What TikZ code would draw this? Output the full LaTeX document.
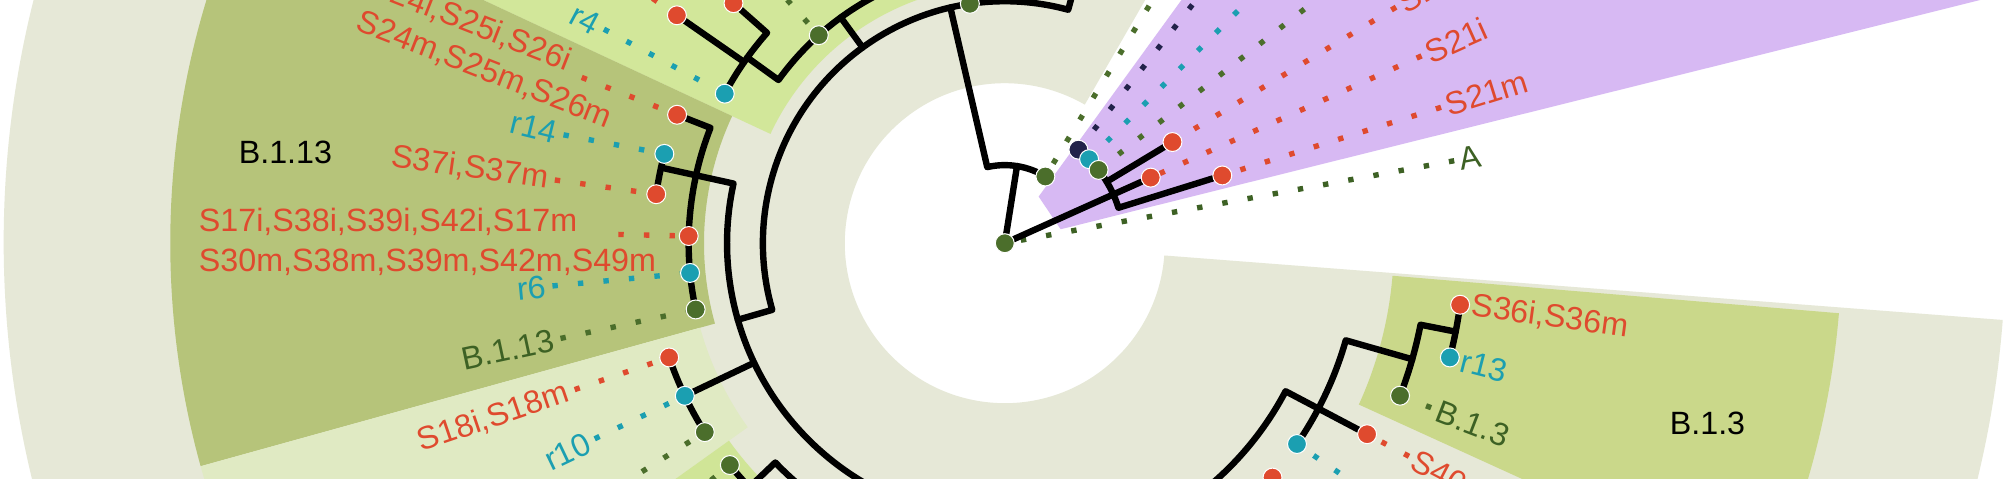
\documentclass[tikz,border=0pt]{standalone}
\usepackage{fontspec}
\setmainfont{Liberation Sans}
\pgfdeclarelayer{back}
\pgfsetlayers{back,main}
\definecolor{cGrey}{HTML}{E6E8D7}
\definecolor{cOlive}{HTML}{B6C47A}
\definecolor{cLgreen}{HTML}{D2E79A}
\definecolor{cPgreen}{HTML}{E0EAC3}
\definecolor{cLime}{HTML}{D0E597}
\definecolor{cBgreen}{HTML}{CAD88A}
\definecolor{cPurp}{HTML}{D7B9F3}
\definecolor{cRed}{HTML}{DF4A2E}
\definecolor{cCyan}{HTML}{1B9FB1}
\definecolor{cGreen}{HTML}{4B6E2B}
\definecolor{cTxGreen}{HTML}{3D6124}
\definecolor{cNavy}{HTML}{22224A}
\tikzset{
  annsec/.style n args={4}{insert path={(#1:#3) arc[start angle=#1,end angle=#2,radius=#3] -- (#2:#4) arc[start angle=#2,end angle=#1,radius=#4] -- cycle}},
  br/.style={line width=2.5pt, line cap=round, line join=round},
  tipnode/.style={circle, inner sep=0pt, minimum size=7.4pt, draw=white, line width=0.4pt},
  rtip/.style={tipnode, fill=cRed},
  ctip/.style={tipnode, fill=cCyan},
  gtip/.style={tipnode, fill=cGreen},
  ntip/.style={tipnode, fill=cNavy},
  ldr/.style={line width=2.1pt, dash pattern=on 2.1pt off 7.9pt},
  lab/.style={font=\fontsize{12.6}{15}\selectfont, inner sep=0pt},
  rlab/.style={lab, text=cRed},
  clab/.style={lab, text=cCyan},
  glab/.style={lab, text=cTxGreen},
}
\begin{document}
\begin{tikzpicture}[x=0.5pt,y=0.5pt]
\useasboundingbox (0,0) rectangle (1568,-374);
\clip (0,0) rectangle (1568,-374);
\begin{scope}[shift={(785,-190)}]
  % ---------- tip nodes ----------
  \node[gtip] (tA) at (0,0) {};
  \node[gtip] (tG59) at (58.7:61) {};
  \node[ntip] (tNv) at (51.8:93) {};
  \node[ctip] (tCy45) at (44.9:93) {};
  \node[gtip] (tG38) at (38:93) {};
  \node[rtip] (tS2x) at (31.1:153) {};
  \node[rtip] (tS21i) at (24.2:125) {};
  \node[rtip] (tS21m) at (17.3:178) {};
  \node[rtip] (tS36) at (-7.7:359) {};
  \node[ctip] (tr13) at (-14.4:359) {};
  \node[gtip] (tB13) at (-21.1:331) {};
  \node[rtip] (tS40) at (-27.8:320) {};
  \node[ctip] (tCy34) at (-34.5:277) {};
  \node[rtip] (tR41) at (-41.2:278) {};
  \node[gtip] (tG98) at (98.3:189) {};
  \node[gtip] (tG132) at (131.8:218) {};
  \node[rtip] (tR138) at (138.5:283) {};
  \node[rtip] (tR145) at (145.2:312) {};
  \node[ctip] (tr4) at (151.9:248) {};
  \node[rtip] (tS24) at (158.6:275) {};
  \node[ctip] (tr14) at (165.3:275) {};
  \node[rtip] (tS37) at (172:275) {};
  \node[rtip] (tS17) at (178.7:247) {};
  \node[ctip] (tr6) at (185.4:247) {};
  \node[gtip] (tB113) at (192.1:247) {};
  \node[rtip] (tS18) at (198.8:277) {};
  \node[ctip] (tr10) at (205.5:277) {};
  \node[gtip] (tG212) at (212.2:277) {};
  \node[gtip] (tG219) at (218.9:276) {};
  % ---------- leader ends ----------
  \coordinate (eA) at (10.4:357);
  \coordinate (eS21m) at (17.3:357);
  \coordinate (eS21i) at (24.2:357);
  \coordinate (eS2x) at (31.1:357);
  \coordinate (eG38) at (38:357);
  \coordinate (eCy45) at (44.9:357);
  \coordinate (eNv) at (51.8:357);
  \coordinate (eG59) at (58.7:357);
  \coordinate (eB13) at (-21.1:357);
  \coordinate (eS40) at (-27.8:357);
  \coordinate (eCy34) at (-34.5:357);
  \coordinate (eR41) at (-41.2:357);
  \coordinate (eG98) at (98.3:355);
  \coordinate (eG132) at (131.8:355);
  \coordinate (eR138) at (138.5:355);
  \coordinate (eR145) at (145.2:355);
  \coordinate (er4) at (151.9:355);
  \coordinate (eS24) at (158.6:355);
  \coordinate (er14) at (166.2:355);
  \coordinate (eS37) at (172:355);
  \coordinate (eS17) at (178.7:302);
  \coordinate (er6) at (185.4:355);
  \coordinate (eB113) at (192.1:355);
  \coordinate (eS18) at (198.8:355);
  \coordinate (er10) at (205.5:355);
  \coordinate (eG212) at (212.2:355);
  \coordinate (eG219) at (218.9:355);
  % ---------- labels ----------
  \node[glab, anchor=west, rotate=10.4] (lA) at (10.4:361) {A};
  \node[rlab, anchor=west, rotate=17.3] (lS21m) at (17.3:361) {S21m};
  \node[rlab, anchor=west, rotate=24.2] (lS21i) at (24.2:361) {S21i};
  \node[rlab, anchor=west, rotate=31.1] (lS2x) at (31.1:361) {S20i};
  \node[rlab, anchor=west, rotate=-7.7] (lS36) at (-7.7:368) {S36i,S36m};
  \node[clab, anchor=west, rotate=-14.4] (lr13) at (-14.4:368) {r13};
  \node[glab, anchor=west, rotate=-21.1] (lB13) at (-21.1:362) {B.1.3};
  \node[rlab, anchor=west, rotate=-27.8] (lS40) at (-27.8:361) {S40m};
  \node[clab, anchor=east, rotate=-28.1] (lr4) at (151.9:360) {r4};
  \node[rlab, anchor=base west, rotate=-21.4] (lS24a) at (-497.2,194.8) {S24i,S25i,S26i};
  \node[rlab, anchor=base west, rotate=-21.4] (lS24b) at (-508.1,166.9) {S24m,S25m,S26m};
  \node[clab, anchor=east, rotate=-13.8] (lr14) at (166.2:360) {r14};
  \node[rlab, anchor=east, rotate=-8] (lS37) at (172:360) {S37i,S37m};
  \node[rlab, anchor=base west] (lS17a) at (-630,9) {S17i,S38i,S39i,S42i,S17m};
  \node[rlab, anchor=base west] (lS17b) at (-630,-22) {S30m,S38m,S39m,S42m,S49m};
  \node[clab, anchor=east, rotate=5.4] (lr6) at (185.4:360) {r6};
  \node[glab, anchor=east, rotate=12.1] (lB113) at (192.1:360) {B.1.13};
  \node[rlab, anchor=east, rotate=18.8] (lS18) at (198.8:360) {S18i,S18m};
  \node[clab, anchor=east, rotate=25.5] (lr10) at (205.5:360) {r10};
  % clade names
  \node[lab] (cB113) at (-562,71) {B.1.13};
  \node[lab] (cB13) at (549,-141) {B.1.3};
\end{scope}

\begin{pgfonlayer}{back}
\clip (0,0) rectangle (1568,-374);
\fill[white] (0,0) rectangle (1568,-374);
\begin{scope}[shift={(785,-190)}]
  % ---------- backgrounds ----------
  \fill[cGrey] (60:782) arc[start angle=60,end angle=355.6,radius=782] -- (355.6:125) arc[start angle=355.6,end angle=60,radius=125] -- cycle;
  \fill[cLgreen, annsec={100}{155}{202}{652}];
  \fill[cOlive, annsec={155}{195.5}{235}{652}];
  \fill[cPgreen, annsec={195.5}{215.6}{247}{652}];
  \fill[cLime, annsec={215.6}{250}{265}{652}];
  \fill[cBgreen, annsec={-24.5}{-4.8}{304}{654}];
  \fill[cPurp] (14:45) -- (14:900) -- (54:900) -- (54:45) -- cycle;
  % ---------- leaders ----------
  \draw[ldr, cTxGreen] (eA) -- (tA);
  \draw[ldr, cRed] (eS21m) -- (tS21m);
  \draw[ldr, cRed] (eS21i) -- (tS21i);
  \draw[ldr, cRed] (eS2x) -- (tS2x);
  \draw[ldr, cGreen] (eG38) -- (tG38);
  \draw[ldr, cCyan] (eCy45) -- (tCy45);
  \draw[ldr, cNavy] (eNv) -- (tNv);
  \draw[ldr, cGreen] (eG59) -- (tG59);
  \draw[ldr, cGreen] (eB13) -- (tB13);
  \draw[ldr, cRed] (eS40) -- (tS40);
  \draw[ldr, cCyan] (eCy34) -- (tCy34);
  \draw[ldr, cRed] (eR41) -- (tR41);
  \draw[ldr, cGreen] (eG98) -- (tG98);
  \draw[ldr, cGreen] (eG132) -- (tG132);
  \draw[ldr, cRed] (eR138) -- (tR138);
  \draw[ldr, cRed] (eR145) -- (tR145);
  \draw[ldr, cCyan] (er4) -- (tr4);
  \draw[ldr, cRed] (eS24) -- (tS24);
  \draw[ldr, cCyan] (er14) -- (tr14);
  \draw[ldr, cRed] (eS37) -- (tS37);
  \draw[ldr, cRed] (eS17) -- (tS17);
  \draw[ldr, cCyan] (er6) -- (tr6);
  \draw[ldr, cGreen] (eB113) -- (tB113);
  \draw[ldr, cRed] (eS18) -- (tS18);
  \draw[ldr, cCyan] (er10) -- (tr10);
  \draw[ldr, cGreen] (eG212) -- (tG212);
  \draw[ldr, cGreen] (eG219) -- (tG219);
  % ---------- branches ----------
  \draw[br] (tA) -- (tS21i);
  \draw[br] (tS21m) -- (17.3:93) arc[start angle=17.3,end angle=51.8,radius=93];
  \draw[br] (31.1:93) -- (tS2x);
  \draw[br] (tA) -- (81:61);
  \draw[br] (58.7:61) arc[start angle=58.7,end angle=103,radius=61] -- (103:189);
  \draw[br] (74.8:240) -- (74.8:189) arc[start angle=74.8,end angle=196,radius=189] -- (196:217);
  \draw[br] (167.6:275) -- (167.6:217) arc[start angle=167.6,end angle=260,radius=217];
  \draw[br] (126:189) -- (126:218);
  \draw[br] (100:218) arc[start angle=100,end angle=144.2,radius=218] -- (144.2:248);
  \draw[br] (tR138) -- (138.5:248) arc[start angle=138.5,end angle=151.9,radius=248];
  \draw[br] (145.2:248) -- (tR145);
  \draw[br] (tS24) -- (158.6:247) arc[start angle=158.6,end angle=192.1,radius=247];
  \draw[br] (165.3:275) arc[start angle=165.3,end angle=172,radius=275];
  \draw[br] (205.5:217) -- (205.5:277);
  \draw[br] (198.8:277) arc[start angle=198.8,end angle=212.2,radius=277];
  \draw[br] (223.7:320) -- (223.7:248) arc[start angle=223.7,end angle=332.2,radius=248] -- (tS40);
  \draw[br] (218.9:276) arc[start angle=218.9,end angle=235,radius=276];
  \draw[br] (-15.9:331) -- (-15.9:277) arc[start angle=-15.9,end angle=-34.5,radius=277];
  \draw[br] (-21.1:331) arc[start angle=-21.1,end angle=-11.1,radius=331] -- (-11.1:359);
  \draw[br] (-14.4:359) arc[start angle=-14.4,end angle=-7.7,radius=359];
\end{scope}
\end{pgfonlayer}
\end{tikzpicture}
\end{document}
